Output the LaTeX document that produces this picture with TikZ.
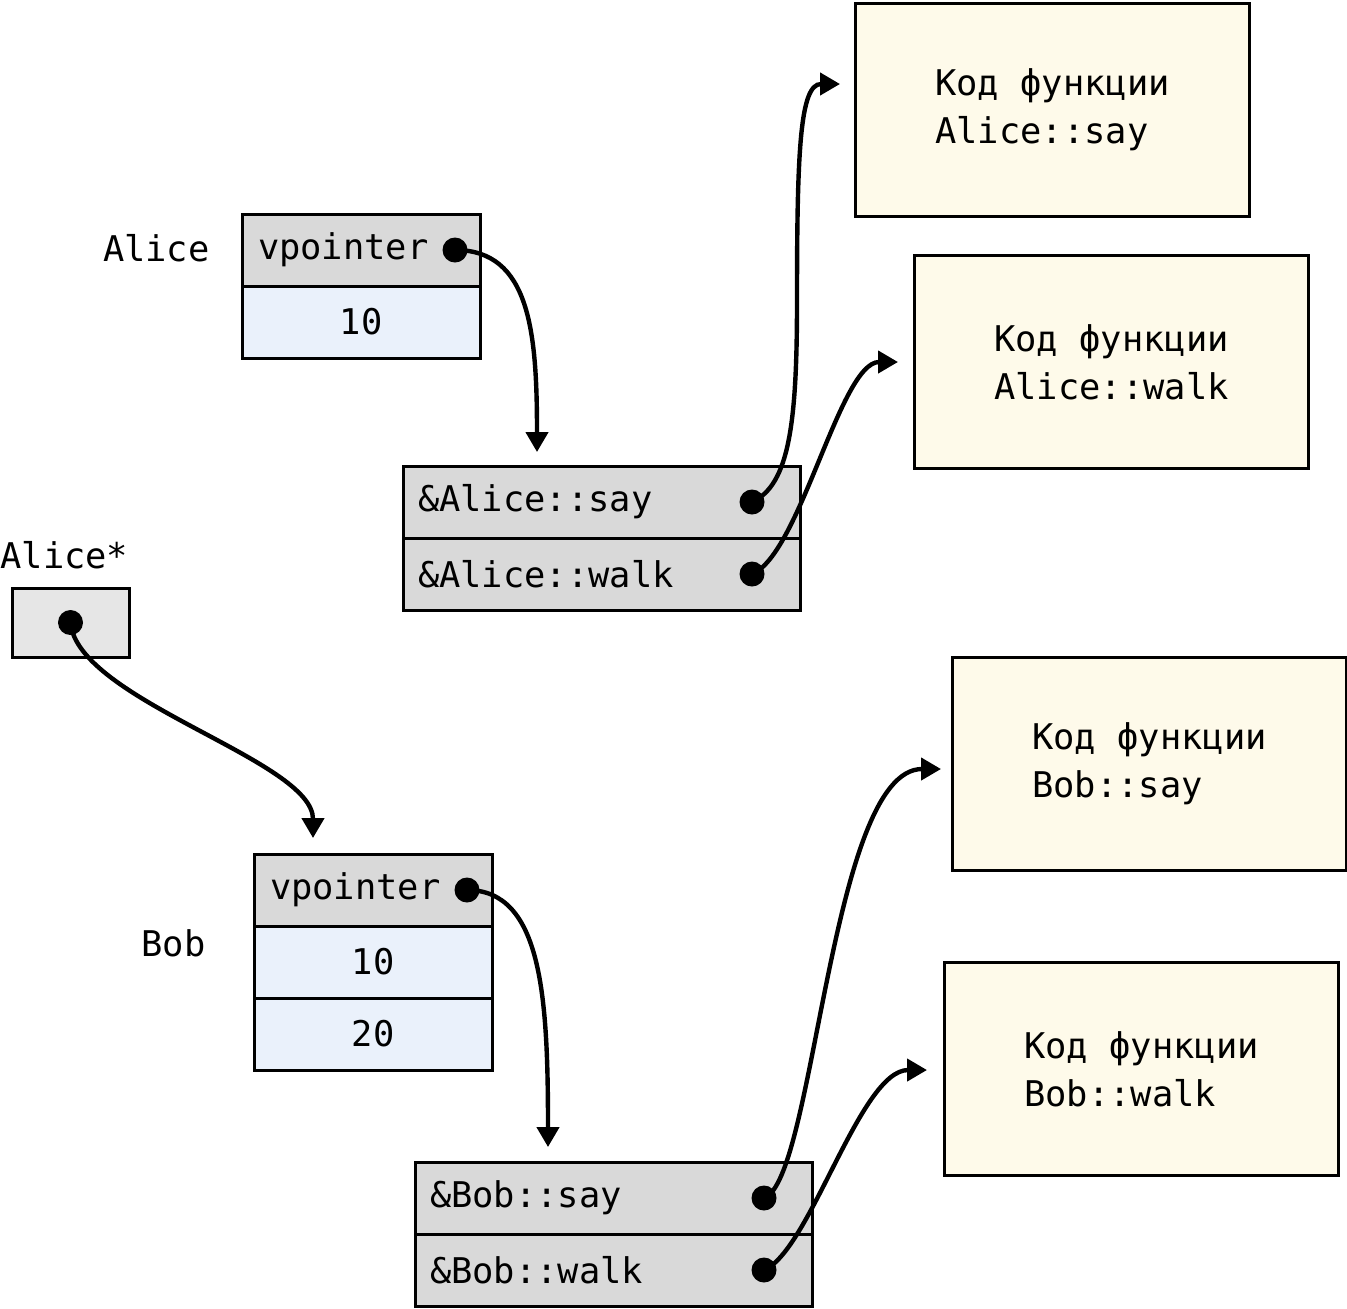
\documentclass[tikz,border=0pt]{standalone}
\usepackage{fontspec}
\setmonofont{DejaVu Sans Mono}
\usepackage{tikz}
\usetikzlibrary{arrows.meta, positioning}
\definecolor{slotgray}{HTML}{D9D9D9}
\definecolor{fieldblue}{HTML}{EAF1FB}
\definecolor{codecream}{HTML}{FEFAEA}
\definecolor{ptrgray}{HTML}{E6E6E6}

\begin{document}
\begin{tikzpicture}[x=0.5pt, y=-0.5pt, font=\ttfamily\fontsize{17.7}{24}\selectfont]
    \tikzstyle{cell}=[draw, line width=1.5pt, minimum height=36pt, inner sep=0pt, outer sep=0pt]
    \tikzstyle{field}=[cell, fill=fieldblue, minimum width=119pt]
    \tikzstyle{slot}=[cell, fill=slotgray, text width=103pt, inner xsep=8pt, align=left]
    \tikzstyle{entry}=[cell, fill=slotgray, text width=183.5pt, inner xsep=7.5pt, align=left]
    \tikzstyle{code}=[draw, line width=1.5pt, fill=codecream, minimum width=197pt, minimum height=106.5pt, align=left, anchor=north west]
    \tikzstyle{dot}=[circle, fill=black, minimum size=12.5pt, inner sep=0pt]
    \tikzstyle{ptr}=[line width=2.2pt, -{Triangle[length=10pt, width=11pt]}]
    \tikzstyle{lbl}=[inner sep=0pt]
    \useasboundingbox (0,0) rectangle (1347,1308);

    % Alice object and its vtable
    \node [slot, anchor=north west] (avp) at (242,214) {vpointer};
    \node [field, below=0pt of avp] (aval) {10};
    \node [lbl, anchor=east] (alice) at (210,248) {Alice};
    \node [dot, xshift=-12.5pt] (avpdot) at (avp.east) {};
    \node [entry, anchor=north west] (asay) at (403,466) {\&Alice::say};
    \node [entry, below=0pt of asay] (awalk) {\&Alice::walk};
    \node [dot, xshift=-24pt] (asaydot) at (asay.east) {};
    \node [dot, xshift=-24pt] (awalkdot) at (awalk.east) {};
    \node [code] (asaycode) at (854,2) {Код функции\\Alice::say};
    \node [code] (awalkcode) at (913,254) {Код функции\\Alice::walk};

    % pointer
    \node [lbl, anchor=west] (ptrlbl) at (0,555) {Alice*};
    \node [cell, fill=ptrgray, minimum width=58.5pt, minimum height=34.5pt, anchor=north west] (aptr) at (12,588) {};
    \node [dot] (aptrdot) at (aptr.center) {};

    % Bob object and its vtable
    \node [slot, anchor=north west] (bvp) at (254,854) {vpointer};
    \node [field, below=0pt of bvp] (bval1) {10};
    \node [field, below=0pt of bval1] (bval2) {20};
    \node [lbl, anchor=east] (bob) at (206,943) {Bob};
    \node [dot, xshift=-12.5pt] (bvpdot) at (bvp.east) {};
    \node [entry, anchor=north west] (bsay) at (415,1162) {\&Bob::say};
    \node [entry, below=0pt of bsay] (bwalk) {\&Bob::walk};
    \node [dot, xshift=-24pt] (bsaydot) at (bsay.east) {};
    \node [dot, xshift=-24pt] (bwalkdot) at (bwalk.east) {};
    \node [code] (bsaycode) at (951,656) {Код функции\\Bob::say};
    \node [code] (bwalkcode) at (943,961) {Код функции\\Bob::walk};

    % arrow ends
    \coordinate (avptip) at (537,452);
    \coordinate (asaymid) at (797,300);
    \coordinate (asaytip) at (840,84);
    \coordinate (awalktip) at (898,362);
    \coordinate (aptrtip) at (313,838);
    \coordinate (bvptip) at (548,1147);
    \coordinate (bsaytip) at (941,769);
    \coordinate (bwalktip) at (927,1070);

    \draw [ptr] (avpdot.center) .. controls +(75,0) and +(0,-120) .. (avptip);
    \draw [ptr] (asaydot.center) .. controls +(38,-17) and +(0,120) .. (asaymid)
      .. controls +(0,-150) and +(-40,0) .. (asaytip);
    \draw [ptr] (awalkdot.center) .. controls +(48,-19) and +(-58,0) .. (awalktip);
    \draw [ptr] (aptrdot.center) .. controls +(7,78) and +(0,-78) .. (aptrtip);
    \draw [ptr] (bvpdot.center) .. controls +(75,0) and +(0,-150) .. (bvptip);
    \draw [ptr] (bsaydot.center) .. controls +(51,-17) and +(-111,0) .. (bsaytip);
    \draw [ptr] (bwalkdot.center) .. controls +(46,-19) and +(-67,0) .. (bwalktip);
  \end{tikzpicture}
\end{document}
